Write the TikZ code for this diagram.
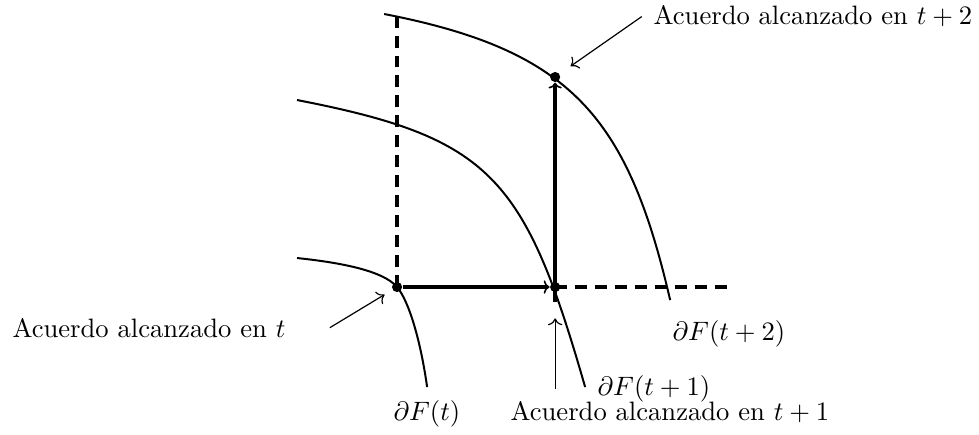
\documentclass[tikz,border=0pt]{standalone}
\usepackage{amsmath, amssymb}
\usepackage{tikz}
\usetikzlibrary{positioning,arrows.meta,calc}

\begin{document}
\begin{tikzpicture}[
    dot/.style={circle, fill=black, inner sep=0pt, minimum size=3.8pt},
    lbl/.style={inner sep=0pt, anchor=base west},
    frontier/.style={line width=0.75pt},
    move/.style={-{To[length=2.2pt, width=5pt, line width=0.6pt]}, line width=1.25pt},
    guide/.style={line width=1.25pt, dash pattern=on 4.5pt off 3pt},
    note/.style={->, line width=0.45pt}
]
    \useasboundingbox (0,0) rectangle (12.93,5.733);

    % agreements
    \node[dot] (A) at (5.244,1.942) {};
    \node[dot] (B) at (7.332,1.942) {};
    \node[dot] (C) at (7.332,4.716) {};
    \coordinate (topA) at (5.244,5.548);
    \coordinate (rightB) at (9.63,1.942);

    % frontiers
    \draw[frontier] (3.923,2.325) .. controls (4.421,2.273) and (5.051,2.172) .. (A.center)
        .. controls (5.405,1.751) and (5.558,1.215) .. (5.641,0.621);
    \draw[frontier] (3.923,4.412) .. controls (6.476,3.915) and (6.928,3.408) .. (7.728,0.621);
    \draw[frontier] (5.073,5.548) .. controls (7.528,5.071) and (8.288,4.205) .. (8.851,1.770);

    % dashed guides
    \draw[guide] (A.center) -- (topA);
    \draw[guide] (B.center) -- (rightB);

    % moves
    \draw[move] (A) -- (B);
    \draw[move] ([yshift=-2mm]B.center) -- (C);

    % labels
    \node[lbl] (lblA) at (0.159,1.281) {Acuerdo alcanzado en $t$};
    \node[lbl] (lblB) at (6.737,0.185) {Acuerdo alcanzado en $t+1$};
    \node[lbl] (lblC) at (8.626,5.403) {Acuerdo alcanzado en $t+2$};
    \node[lbl] (f0) at (5.191,0.185) {$\partial F(t)$};
    \node[lbl] (f1) at (7.886,0.515) {$\partial F(t+1)$};
    \node[lbl] (f2) at (8.877,1.242) {$\partial F(t+2)$};

    \draw[note, shorten >=1.2mm] ([xshift=5.8mm]lblA.east) -- (A);
    \draw[note, shorten <=1.5mm, shorten >=3.4mm] (lblB.north -| B) -- (B);
    \draw[note, shorten >=1.75mm] ([xshift=-1.5mm]lblC.west) -- (C);
\end{tikzpicture}
\end{document}
